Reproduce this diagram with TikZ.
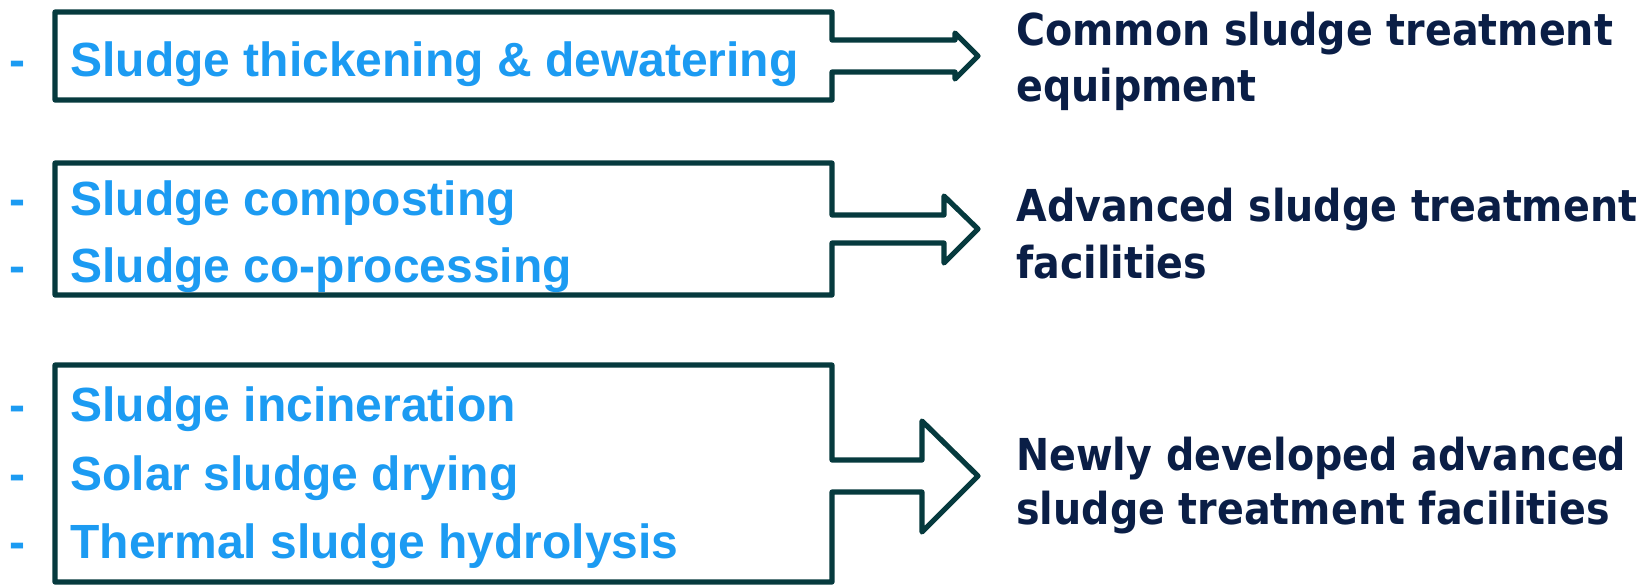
\documentclass[tikz,border=0pt]{standalone}
\usepackage{fontspec}
\setmainfont{Liberation Sans}
\newfontfamily\resultfont{DejaVu Sans Condensed}
\definecolor{framegreen}{RGB}{6,58,62}
\definecolor{itemblue}{RGB}{28,155,242}
\definecolor{resultnavy}{RGB}{10,30,70}
\tikzset{
  itemtext/.style={anchor=base west,inner sep=0pt,text=itemblue,font=\fontsize{24}{28}\selectfont\bfseries},
  resulttext/.style={anchor=base west,inner sep=0pt,text=resultnavy,font=\resultfont\fontsize{22}{27}\selectfont\bfseries},
  framebox/.style={draw=framegreen,line width=2.6pt,line join=round}
}
\begin{document}
\begin{tikzpicture}[x=0.5pt,y=-0.5pt]
  \useasboundingbox (0,0) rectangle (1651,585);
  \draw [framebox] (55,12) -- (832,12) -- (832,40) -- (955,40) -- (955,33) -- (978,56)
        -- (955,79) -- (955,72) -- (832,72) -- (832,100) -- (55,100) -- cycle;
  \draw [framebox] (55,163) -- (832,163) -- (832,215) -- (944,215) -- (944,196) -- (978,229)
        -- (944,263) -- (944,243) -- (832,243) -- (832,295) -- (55,295) -- cycle;
  \draw [framebox] (55,365) -- (832,365) -- (832,460) -- (922,460) -- (922,421) -- (978,476)
        -- (922,532) -- (922,492) -- (832,492) -- (832,582) -- (55,582) -- cycle;

  \node (dash1) at (9,76)[itemtext]{-};
  \node (item1) at (70,76)[itemtext]{Sludge thickening \& dewatering};
  \node (dash2) at (9,215)[itemtext]{-};
  \node (item2) at (70,215)[itemtext]{Sludge composting};
  \node (dash3) at (9,282)[itemtext]{-};
  \node (item3) at (70,282)[itemtext]{Sludge co-processing};
  \node (dash4) at (9,421)[itemtext]{-};
  \node (item4) at (70,421)[itemtext]{Sludge incineration};
  \node (dash5) at (9,490)[itemtext]{-};
  \node (item5) at (70,490)[itemtext]{Solar sludge drying};
  \node (dash6) at (9,558)[itemtext]{-};
  \node (item6) at (70,558)[itemtext]{Thermal sludge hydrolysis};

  \node (res1a) at (1016,45)[resulttext]{Common sludge treatment};
  \node (res1b) at (1016,101)[resulttext]{equipment};
  \node (res2a) at (1016,221)[resulttext]{Advanced sludge treatment};
  \node (res2b) at (1016,278)[resulttext]{facilities};
  \node (res3a) at (1016,470)[resulttext]{Newly developed advanced};
  \node (res3b) at (1016,524)[resulttext]{sludge treatment facilities};
\end{tikzpicture}
\end{document}
